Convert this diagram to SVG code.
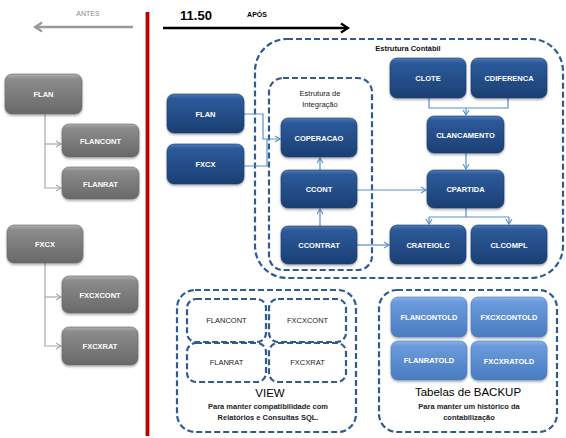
<svg xmlns="http://www.w3.org/2000/svg" width="566" height="438" viewBox="0 0 566 438">
<defs>
<linearGradient id="gBlue" x1="0" y1="0" x2="0" y2="1">
<stop offset="0" stop-color="#4f7bb8"/><stop offset="0.12" stop-color="#2c5a9a"/><stop offset="1" stop-color="#1b3f73"/>
</linearGradient>
<linearGradient id="gLight" x1="0" y1="0" x2="0" y2="1">
<stop offset="0" stop-color="#8ab3ea"/><stop offset="0.12" stop-color="#6b9bdc"/><stop offset="1" stop-color="#4a7cc0"/>
</linearGradient>
<linearGradient id="gGray" x1="0" y1="0" x2="0" y2="1">
<stop offset="0" stop-color="#b0b0b0"/><stop offset="0.12" stop-color="#8c8c8c"/><stop offset="1" stop-color="#686868"/>
</linearGradient>
<filter id="sh" x="-10%" y="-10%" width="130%" height="140%">
<feDropShadow dx="0" dy="1.5" stdDeviation="1.2" flood-color="#000" flood-opacity="0.35"/>
</filter>
<marker id="aBlue" markerWidth="8" markerHeight="8" refX="6" refY="4" orient="auto" markerUnits="userSpaceOnUse">
<path d="M1,1 L6,4 L1,7" fill="none" stroke="#5b8fc9" stroke-width="1.1"/>
</marker>
<marker id="aGray" markerWidth="8" markerHeight="8" refX="6" refY="4" orient="auto" markerUnits="userSpaceOnUse">
<path d="M1,1 L6,4 L1,7" fill="none" stroke="#a8a8a8" stroke-width="1.1"/>
</marker>
<marker id="aBigBlack" markerWidth="12" markerHeight="12" refX="9" refY="6" orient="auto" markerUnits="userSpaceOnUse">
<path d="M2,1.5 L9,6 L2,10.5" fill="none" stroke="#000" stroke-width="2.2"/>
</marker>
<marker id="aBigGray" markerWidth="12" markerHeight="12" refX="9" refY="6" orient="auto" markerUnits="userSpaceOnUse">
<path d="M2,1.5 L9,6 L2,10.5" fill="none" stroke="#999" stroke-width="2.2"/>
</marker>
</defs>
<style>
.nb{fill:url(#gBlue);stroke:#1a3a6a;stroke-width:0.6;filter:url(#sh)}
.nl{fill:url(#gLight);stroke:#4a78b8;stroke-width:0.6;filter:url(#sh)}
.ng{fill:url(#gGray);stroke:#666;stroke-width:0.6;filter:url(#sh)}
.t{font-family:"Liberation Sans",Arial,sans-serif;font-weight:bold;font-size:7.5px;fill:#fff;text-anchor:middle;dominant-baseline:central}
.td{font-family:"Liberation Sans",Arial,sans-serif;font-size:7.5px;fill:#222;text-anchor:middle;dominant-baseline:central}
.big{font-size:11.5px;fill:#000}
.sm{font-size:7.5px;font-weight:bold;fill:#222}
.dash{fill:none;stroke:#2f5a92;stroke-width:2.2;stroke-dasharray:6 3}
.cb{fill:none;stroke:#5b8fc9;stroke-width:1.2}
.cg{fill:none;stroke:#a8a8a8;stroke-width:1.2}
</style>
<rect width="566" height="438" fill="#fff"/>

<g id="header">
<text x="88" y="16" font-family="Liberation Sans, Arial, sans-serif" font-size="7" fill="#8a8a8a" text-anchor="middle">ANTES</text>
<line x1="133" y1="27" x2="35" y2="27" stroke="#999" stroke-width="2.4" marker-end="url(#aBigGray)"/>
<line x1="147.5" y1="12" x2="147.5" y2="436" stroke="#c00000" stroke-width="3.8"/>
<text x="196" y="19.5" font-family="Liberation Sans, Arial, sans-serif" font-weight="bold" font-size="13" fill="#000" text-anchor="middle">11.50</text>
<text x="257" y="17" font-family="Liberation Sans, Arial, sans-serif" font-weight="bold" font-size="7" fill="#000" text-anchor="middle">APÓS</text>
<line x1="163" y1="28" x2="348" y2="28" stroke="#000" stroke-width="2.4" marker-end="url(#aBigBlack)"/>
</g>

<g id="contabil">
<rect class="dash" x="255" y="39" width="308" height="239" rx="32"/>
<text class="td sm" x="408" y="48" style="fill:#111">Estrutura Contábil</text>
</g>
<g id="integracao">
<rect class="dash" x="269" y="78" width="103" height="192" rx="14"/>
<text class="td" x="320" y="93">Estrutura de</text>
<text class="td" x="320" y="104">Integração</text>
</g>

<g id="connectors">
<path class="cg" d="M45,114 V188 H61" marker-end="url(#aGray)"/>
<path class="cg" d="M45,144 H61" marker-end="url(#aGray)"/>
<path class="cg" d="M45,263 V346 H61" marker-end="url(#aGray)"/>
<path class="cg" d="M45,297 H61" marker-end="url(#aGray)"/>
<path class="cb" d="M244,114 H263 V139 H280" marker-end="url(#aBlue)"/>
<path class="cb" d="M244,166 H267 V139"/>
<path class="cb" d="M320,170 V158" marker-end="url(#aBlue)"/>
<path class="cb" d="M320,226 V209" marker-end="url(#aBlue)"/>
<path class="cb" d="M357,190 H426" marker-end="url(#aBlue)"/>
<path class="cb" d="M357,245 H389" marker-end="url(#aBlue)"/>
<path class="cb" d="M429,98 V108 H508 V98"/>
<path class="cb" d="M466,108 V115" marker-end="url(#aBlue)"/>
<path class="cb" d="M466,153 V169" marker-end="url(#aBlue)"/>
<path class="cb" d="M466,208 V217"/>
<path class="cb" d="M429,217 H509"/>
<path class="cb" d="M429,217 V224" marker-end="url(#aBlue)"/>
<path class="cb" d="M509,217 V224" marker-end="url(#aBlue)"/>
</g>

<g id="old-flan"><rect class="ng" x="5" y="74" width="77" height="40" rx="7"/><text class="t" x="43.5" y="94">FLAN</text></g>
<g id="old-flancont"><rect class="ng" x="62" y="124" width="77" height="33" rx="7"/><text class="t" x="100.5" y="141">FLANCONT</text></g>
<g id="old-flanrat"><rect class="ng" x="62" y="167" width="77" height="32" rx="7"/><text class="t" x="100.5" y="184">FLANRAT</text></g>
<g id="old-fxcx"><rect class="ng" x="7" y="225" width="76" height="38" rx="7"/><text class="t" x="45" y="244">FXCX</text></g>
<g id="old-fxcxcont"><rect class="ng" x="62" y="276" width="76" height="37" rx="7"/><text class="t" x="100" y="295">FXCXCONT</text></g>
<g id="old-fxcxrat"><rect class="ng" x="62" y="327" width="76" height="38" rx="7"/><text class="t" x="100" y="346">FXCXRAT</text></g>

<g id="flan"><rect class="nb" x="167" y="94" width="77" height="39" rx="7"/><text class="t" x="205.5" y="114">FLAN</text></g>
<g id="fxcx"><rect class="nb" x="167" y="144" width="77" height="40" rx="7"/><text class="t" x="205.5" y="164">FXCX</text></g>
<g id="coperacao"><rect class="nb" x="281" y="118" width="76" height="39" rx="7"/><text class="t" x="319" y="138">COPERACAO</text></g>
<g id="ccont"><rect class="nb" x="281" y="170" width="76" height="38" rx="7"/><text class="t" x="319" y="189">CCONT</text></g>
<g id="ccontrat"><rect class="nb" x="281" y="226" width="76" height="38" rx="7"/><text class="t" x="319" y="245">CCONTRAT</text></g>
<g id="clote"><rect class="nb" x="390" y="58" width="76" height="40" rx="7"/><text class="t" x="428" y="78">CLOTE</text></g>
<g id="cdiferenca"><rect class="nb" x="471" y="58" width="76" height="40" rx="7"/><text class="t" x="509" y="78">CDIFERENCA</text></g>
<g id="clancamento"><rect class="nb" x="427" y="116" width="77" height="37" rx="7"/><text class="t" x="465.5" y="135">CLANCAMENTO</text></g>
<g id="cpartida"><rect class="nb" x="427" y="170" width="77" height="38" rx="7"/><text class="t" x="465.5" y="189">CPARTIDA</text></g>
<g id="crateiolc"><rect class="nb" x="390" y="225" width="76" height="39" rx="7"/><text class="t" x="428" y="245">CRATEIOLC</text></g>
<g id="clcompl"><rect class="nb" x="471" y="225" width="76" height="39" rx="7"/><text class="t" x="509" y="245">CLCOMPL</text></g>

<g id="view">
<rect class="dash" x="177" y="290" width="179" height="142" rx="18"/>
<g id="v-flancont"><rect class="dash" x="187" y="299" width="79" height="43" rx="9"/><text class="td" x="226.5" y="320">FLANCONT</text></g>
<g id="v-fxcxcont"><rect class="dash" x="269" y="299" width="77" height="43" rx="9"/><text class="td" x="307.5" y="320">FXCXCONT</text></g>
<g id="v-flanrat"><rect class="dash" x="187" y="343" width="79" height="39" rx="9"/><text class="td" x="226.5" y="362">FLANRAT</text></g>
<g id="v-fxcxrat"><rect class="dash" x="269" y="343" width="77" height="39" rx="9"/><text class="td" x="307.5" y="362">FXCXRAT</text></g>
<text class="td big" x="270" y="393">VIEW</text>
<text class="td sm" x="268" y="406">Para manter compatibilidade  com</text>
<text class="td sm" x="268" y="417">Relatórios e Consultas  SQL.</text>
</g>

<g id="backup">
<rect class="dash" x="379" y="290" width="178" height="142" rx="18"/>
<g id="b-flancontold"><rect class="nl" x="391" y="297" width="76" height="40" rx="7"/><text class="t" x="429" y="317">FLANCONTOLD</text></g>
<g id="b-fxcxcontold"><rect class="nl" x="471" y="297" width="76" height="40" rx="7"/><text class="t" x="509" y="317">FXCXCONTOLD</text></g>
<g id="b-flanratold"><rect class="nl" x="391" y="341" width="76" height="39" rx="7"/><text class="t" x="429" y="360">FLANRATOLD</text></g>
<g id="b-fxcxratold"><rect class="nl" x="471" y="341" width="76" height="39" rx="7"/><text class="t" x="509" y="361">FXCXRATOLD</text></g>
<text class="td big" x="468" y="392">Tabelas de BACKUP</text>
<text class="td sm" x="469" y="406">Para manter um histórico da</text>
<text class="td sm" x="469" y="417">contabilização</text>
</g>
</svg>
